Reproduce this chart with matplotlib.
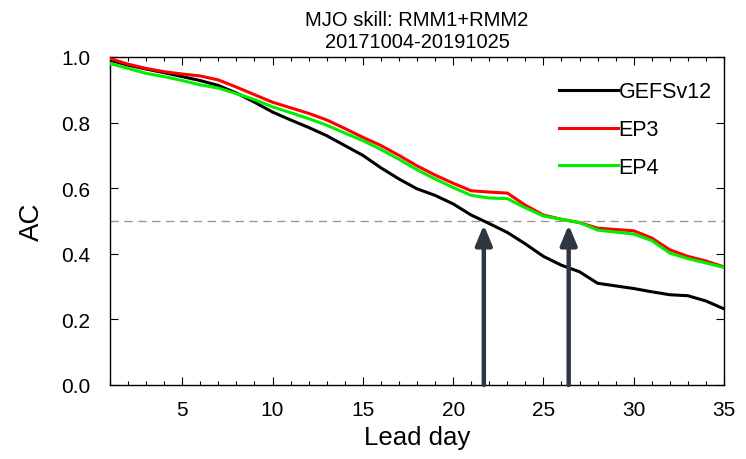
import numpy as np
import matplotlib
matplotlib.use('Agg')
import matplotlib.pyplot as plt
from matplotlib.ticker import MultipleLocator

plt.rcParams['font.family'] = ['Liberation Sans', 'DejaVu Sans']

# --------------> DATA
lead_days = np.arange(1, 36)

gefsv12 = [0.990, 0.975, 0.963, 0.952, 0.940, 0.928, 0.913, 0.890, 0.862, 0.832,
           0.808, 0.785, 0.760, 0.730, 0.700, 0.662, 0.628, 0.598, 0.578, 0.552,
           0.518, 0.492, 0.465, 0.430, 0.392, 0.365, 0.345, 0.310, 0.302, 0.294,
           0.284, 0.275, 0.272, 0.256, 0.232]

ep3 = [0.995, 0.978, 0.965, 0.955, 0.948, 0.942, 0.930, 0.908, 0.885, 0.862,
       0.845, 0.828, 0.808, 0.782, 0.755, 0.730, 0.700, 0.668, 0.640, 0.615,
       0.592, 0.588, 0.585, 0.548, 0.518, 0.505, 0.495, 0.478, 0.474, 0.470,
       0.448, 0.412, 0.392, 0.378, 0.360]

ep4 = [0.980, 0.965, 0.950, 0.940, 0.928, 0.915, 0.905, 0.888, 0.870, 0.848,
       0.830, 0.812, 0.792, 0.768, 0.745, 0.718, 0.688, 0.656, 0.628, 0.602,
       0.578, 0.570, 0.568, 0.540, 0.515, 0.505, 0.495, 0.472, 0.466, 0.460,
       0.440, 0.402, 0.385, 0.372, 0.358]

threshold = 0.5
arrow_days = [21.7, 26.4]

# --------------> PLOT
fig = plt.figure(figsize=(7.46, 4.6), dpi=100)
ax = fig.add_axes([0.1475, 0.161, 0.823, 0.713])

ax.axhline(threshold, color='#999999', lw=1.0, ls=(0, (6, 4)), zorder=1)

ax.plot(lead_days, gefsv12, color='black', lw=2.2, label='GEFSv12', zorder=3)
ax.plot(lead_days, ep3, color='#ff0000', lw=2.2, label='EP3', zorder=3)
ax.plot(lead_days, ep4, color='#00ee00', lw=2.2, label='EP4', zorder=4)

for d in arrow_days:
    ax.annotate('', xy=(d, threshold - 0.012), xytext=(d, 0.0),
                arrowprops=dict(arrowstyle='-|>,head_length=1.2,head_width=0.5',
                                color='#2e3640', lw=3.2, shrinkA=0, shrinkB=0),
                zorder=5, annotation_clip=False)

ax.set_xlim(1, 35)
ax.set_ylim(0, 1)
ax.xaxis.set_major_locator(MultipleLocator(5))
ax.xaxis.set_minor_locator(MultipleLocator(1))
ax.yaxis.set_major_locator(MultipleLocator(0.2))
ax.yaxis.set_major_formatter(matplotlib.ticker.FormatStrFormatter('%.1f'))
ax.tick_params(which='both', direction='in', top=True, right=True,
               labelsize=15, width=0.8)
ax.tick_params(axis='x', pad=11)
ax.tick_params(axis='y', pad=14)
ax.tick_params(which='major', length=6)
ax.tick_params(which='minor', length=3)
for s in ax.spines.values():
    s.set_linewidth(1.0)

ax.set_xlabel('Lead day', fontsize=18.5, labelpad=4)
ax.set_ylabel('AC', fontsize=20, labelpad=12)
ax.set_title('MJO skill: RMM1+RMM2\n20171004-20191025', fontsize=14.5,
             linespacing=1.2, pad=7)

ax.legend(loc='upper left', bbox_to_anchor=(0.70, 0.985), frameon=False,
          fontsize=15.5, handlelength=2.75, handletextpad=0.0, labelspacing=0.78)

plt.savefig('out.png', dpi=100)
